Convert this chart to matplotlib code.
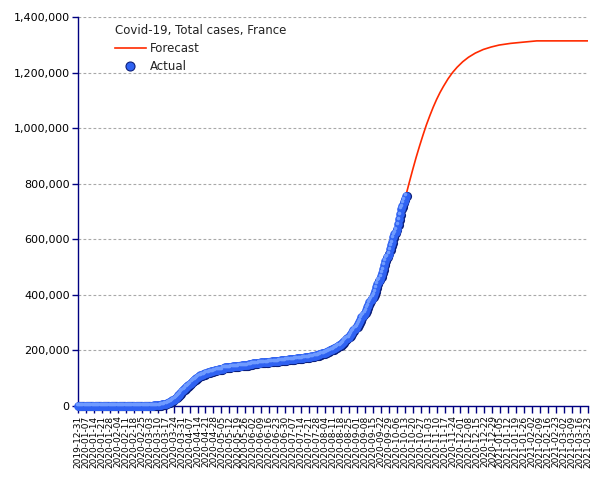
import matplotlib
matplotlib.use("Agg")
import matplotlib.pyplot as plt
import matplotlib.transforms as mtransforms
from matplotlib.ticker import FuncFormatter
from matplotlib.lines import Line2D
import pandas as pd

# ---- Actual daily totals (2019-12-31 .. 2020-10-14) ----
actual_start = "2019-12-31"
act_jan = [0] * 24 + [2, 3, 3, 3, 3, 4, 5, 6]
act_feb = [6, 6, 6, 6, 6, 6, 6, 11, 11, 11, 11, 11, 11, 11, 12, 12, 12, 12, 12, 12,
           12, 12, 12, 12, 14, 18, 38, 57, 100]
act_mar = [130, 191, 212, 285, 423, 613, 949, 1126, 1209, 1784, 2281, 2876, 3661, 4499,
           5423, 6633, 7730, 9134, 10995, 12612, 14459, 16018, 19856, 22302, 25233,
           29155, 32964, 37575, 40174, 44550, 52128]
act_apr = [56989, 59105, 64338, 68605, 70478, 74390, 78167, 82048, 86334, 90276, 93790,
           95403, 98076, 103573, 106206, 108847, 109252, 111821, 112606, 114657, 117324,
           119151, 120804, 121248, 122577, 124114, 124575, 125770, 126835, 128339]
act_may = [129581, 130185, 130979, 131287, 131863, 132967, 137150, 137779, 138421, 138854,
           139063, 139519, 140227, 140734, 141356, 141919, 142291, 142411, 143427, 143845,
           144163, 144556, 144921, 145279, 145555, 145746, 146122, 146960, 148524, 149071,
           149668]
act_jun = [151800, 152400, 153000, 153600, 154200, 154600, 154900, 155300, 155800, 156300,
           156800, 157200, 157700, 158000, 158200, 158600, 159000, 159500, 160000, 160400,
           160800, 161100, 161300, 161700, 162200, 162900, 163500, 164100, 164300, 164800]
act_jul = [165700, 166300, 166900, 167400, 167900, 168300, 168600, 169100, 169600, 170200,
           170800, 171300, 171700, 172200, 172700, 173200, 173800, 174400, 175100, 175700,
           176200, 176900, 177700, 178700, 179700, 180500, 181100, 182000, 183200, 184600,
           186000]
act_aug = [188500, 189600, 190300, 191600, 193300, 195000, 197100, 199400, 201500, 202800,
           204400, 206700, 209300, 211900, 214700, 217300, 219000, 221300, 225000, 229400,
           234000, 238500, 242900, 244800, 248200, 253600, 259700, 267100, 272400, 277900,
           281000]
act_sep = [286000, 293000, 300000, 309000, 317700, 324800, 328900, 335500, 344100, 353900,
           363400, 373900, 381100, 386000, 393000, 402800, 412100, 425900, 439900, 450100,
           455600, 467100, 479300, 492700, 508000, 522200, 534300, 538900, 547800, 563500]
act_oct = [577500, 589700, 606600, 619200, 624300, 634800, 653500, 671600, 691000, 710000,
           718300, 732300, 743500, 757000]

# ---- Forecast ----
fc_dates = ["2020-10-14", "2020-10-17", "2020-10-20", "2020-10-23", "2020-10-26",
            "2020-10-29", "2020-11-01", "2020-11-04", "2020-11-07", "2020-11-10",
            "2020-11-13", "2020-11-16", "2020-11-20", "2020-11-24", "2020-11-28",
            "2020-12-03", "2020-12-08", "2020-12-14", "2020-12-21", "2020-12-28",
            "2021-01-04", "2021-01-14", "2021-01-24", "2021-02-06", "2021-03-23"]
fc_values = [757000, 804000, 850000, 894000, 935000, 974000, 1011000, 1044000, 1075000,
             1103000, 1128000, 1150000, 1177000, 1200000, 1219000, 1239000, 1255000,
             1270000, 1283000, 1292000, 1299000, 1305000, 1309000, 1314000, 1314000]

tick_start = "2019-12-31"
tick_end = "2021-03-23"
y_ticks = [0, 200000, 400000, 600000, 800000, 1000000, 1200000, 1400000]
title_text = "Covid-19, Total cases, France"
label_forecast = "Forecast"
label_actual = "Actual"

actual_vals = (act_jan + act_feb + act_mar + act_apr + act_may + act_jun + act_jul +
               act_aug + act_sep + act_oct)
actual_dates = pd.date_range(actual_start, periods=len(actual_vals), freq="D")
fc_dt = pd.to_datetime(fc_dates)

navy = "#000080"
red = "#ff2a00"
fig = plt.figure(figsize=(6.05, 4.80), dpi=100)
ax = fig.add_axes([78 / 605, 1 - 405.7 / 480, (588 - 78) / 605, (405.7 - 17) / 480])

ax.plot(fc_dt, fc_values, color=red, lw=1.2, zorder=3)

# sphere-like markers: dark shadow, blue body, light highlight
shadow = mtransforms.offset_copy(ax.transData, fig=fig, x=0.5, y=-0.5, units="points")
hl = mtransforms.offset_copy(ax.transData, fig=fig, x=-0.9, y=0.9, units="points")
ax.plot(actual_dates, actual_vals, "o", ms=6.6, mfc="#0c1f7a", mec="none",
        transform=shadow, clip_on=False, zorder=4)
ax.plot(actual_dates, actual_vals, "o", ms=6.2, mfc="#2f62f2", mec="none",
        clip_on=False, zorder=5)
ax.plot(actual_dates, actual_vals, "o", ms=2.6, mfc="#6f9bff", mec="none",
        transform=hl, clip_on=False, zorder=6)

ax.set_ylim(0, 1400000)
ax.set_xlim(pd.Timestamp(tick_start), pd.Timestamp(tick_end))
ax.set_yticks(y_ticks)
ax.yaxis.set_major_formatter(FuncFormatter(lambda v, p: f"{int(v):,}"))
xt = pd.date_range(tick_start, tick_end, freq="7D")
ax.set_xticks(xt)
ax.set_xticklabels([d.strftime("%Y-%m-%d") for d in xt], rotation=90, fontsize=6.5)
ax.tick_params(axis="y", labelsize=8, color=navy, length=4, width=1, pad=2)
ax.tick_params(axis="x", color=navy, length=5, width=1, pad=2)

ax.grid(axis="y", color="#a8a8a8", linestyle=(0, (2.5, 2)), linewidth=0.8)
ax.set_axisbelow(True)
for s in ["top", "right"]:
    ax.spines[s].set_visible(False)
for s in ["left", "bottom"]:
    ax.spines[s].set_color(navy)
    ax.spines[s].set_linewidth(1)

# legend
h_fc = Line2D([], [], color=red, lw=1.2)
h_ac = Line2D([], [], marker="o", ls="none", ms=6.5, mfc="#2f62f2", mec="#0c1f7a", mew=0.8)
leg = ax.legend([h_fc, h_ac], [label_forecast, label_actual], title=title_text,
                loc="upper left", bbox_to_anchor=(0.063, 0.995), frameon=False,
                fontsize=8.5, title_fontsize=8.5, handlelength=2.6, handletextpad=0.4,
                labelspacing=0.45, borderaxespad=0, alignment="left")
for t in leg.get_texts():
    t.set_color("#222222")
leg.get_title().set_color("#222222")

fig.savefig("out.png", dpi=100)
